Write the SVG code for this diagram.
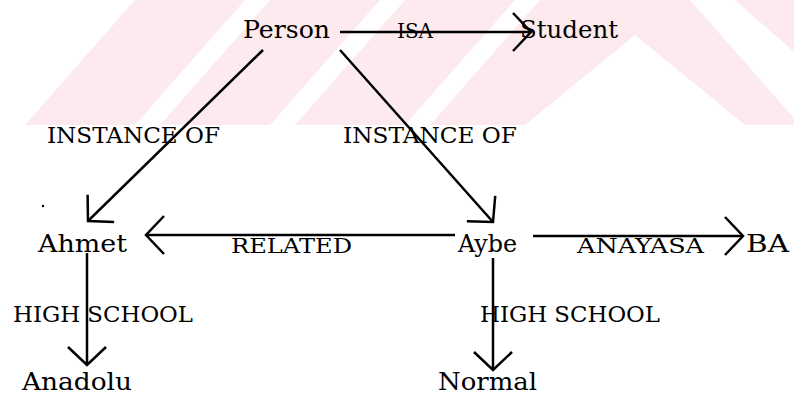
<svg xmlns="http://www.w3.org/2000/svg" width="794" height="396" viewBox="0 0 794 396">
  <style>
    text { font-family: "DejaVu Serif", "Liberation Serif", serif; fill: #000; }
    .node { font-size: 25px; }
    .lbl { font-size: 23px; }
    .lbl-s { font-size: 21px; }
    .edge { stroke: #000; stroke-width: 2.5; fill: none; marker-end: url(#openV); }
    .wm { fill: #fdeaee; stroke: none; }
  </style>
  <defs>
    <marker id="openV" markerUnits="userSpaceOnUse" viewBox="-25 -25 30 50" refX="0" refY="0" markerWidth="30" markerHeight="50" orient="auto" overflow="visible">
      <path d="M-18,-19 L0,0 L-18,19" stroke="#000" stroke-width="2.5" fill="none"/>
    </marker>
  </defs>
  <rect width="794" height="396" fill="#fff"/>
  <g id="watermark">
    <polygon class="wm" points="25,125 135,125 245,0 135,0"/>
    <polygon class="wm" points="160,125 270,125 380,0 270,0"/>
    <polygon class="wm" points="295,125 405,125 515,0 405,0"/>
    <polygon class="wm" points="430,125 525,125 635,35 745,125 794,125 794,118 690,0 540,0"/>
    <polygon class="wm" points="735,0 794,0 794,52"/>
  </g>
  <g id="connectors">
    <path class="edge" d="M340,32 L531,32"/>
    <path class="edge" d="M263,50 L88,221"/>
    <path class="edge" d="M340,50 L493,222"/>
    <path class="edge" d="M455,235 L146,235"/>
    <path class="edge" d="M533,236 L743,236"/>
    <path class="edge" d="M87,253 L87,365"/>
    <path class="edge" d="M493,258 L493,370"/>
    <circle cx="43" cy="206" r="1.2" fill="#000"/>
  </g>
  <g id="edge-labels">
    <text class="lbl-s" x="397" y="38" textLength="36" lengthAdjust="spacingAndGlyphs">ISA</text>
    <text class="lbl" x="47" y="143" textLength="173" lengthAdjust="spacingAndGlyphs">INSTANCE OF</text>
    <text class="lbl" x="343" y="143" textLength="174" lengthAdjust="spacingAndGlyphs">INSTANCE OF</text>
    <text class="lbl-s" x="231" y="253" textLength="121" lengthAdjust="spacingAndGlyphs">RELATED</text>
    <text class="lbl-s" x="577" y="253" textLength="127" lengthAdjust="spacingAndGlyphs">ANAYASA</text>
    <text class="lbl" x="13" y="322" textLength="180" lengthAdjust="spacingAndGlyphs">HIGH SCHOOL</text>
    <text class="lbl" x="480" y="322" textLength="180" lengthAdjust="spacingAndGlyphs">HIGH SCHOOL</text>
  </g>
  <g id="node-person"><text class="node" x="243" y="38" textLength="87" lengthAdjust="spacingAndGlyphs">Person</text></g>
  <g id="node-student"><text class="node" x="520" y="38" textLength="98" lengthAdjust="spacingAndGlyphs">Student</text></g>
  <g id="node-ahmet"><text class="node" x="38" y="252" textLength="89" lengthAdjust="spacingAndGlyphs">Ahmet</text></g>
  <g id="node-aybe"><text class="node" x="458" y="252" textLength="59" lengthAdjust="spacingAndGlyphs">Aybe</text></g>
  <g id="node-ba"><text class="node" x="746" y="252" textLength="43" lengthAdjust="spacingAndGlyphs">BA</text></g>
  <g id="node-anadolu"><text class="node" x="22" y="390" textLength="110" lengthAdjust="spacingAndGlyphs">Anadolu</text></g>
  <g id="node-normal"><text class="node" x="438" y="390" textLength="99" lengthAdjust="spacingAndGlyphs">Normal</text></g>
</svg>
